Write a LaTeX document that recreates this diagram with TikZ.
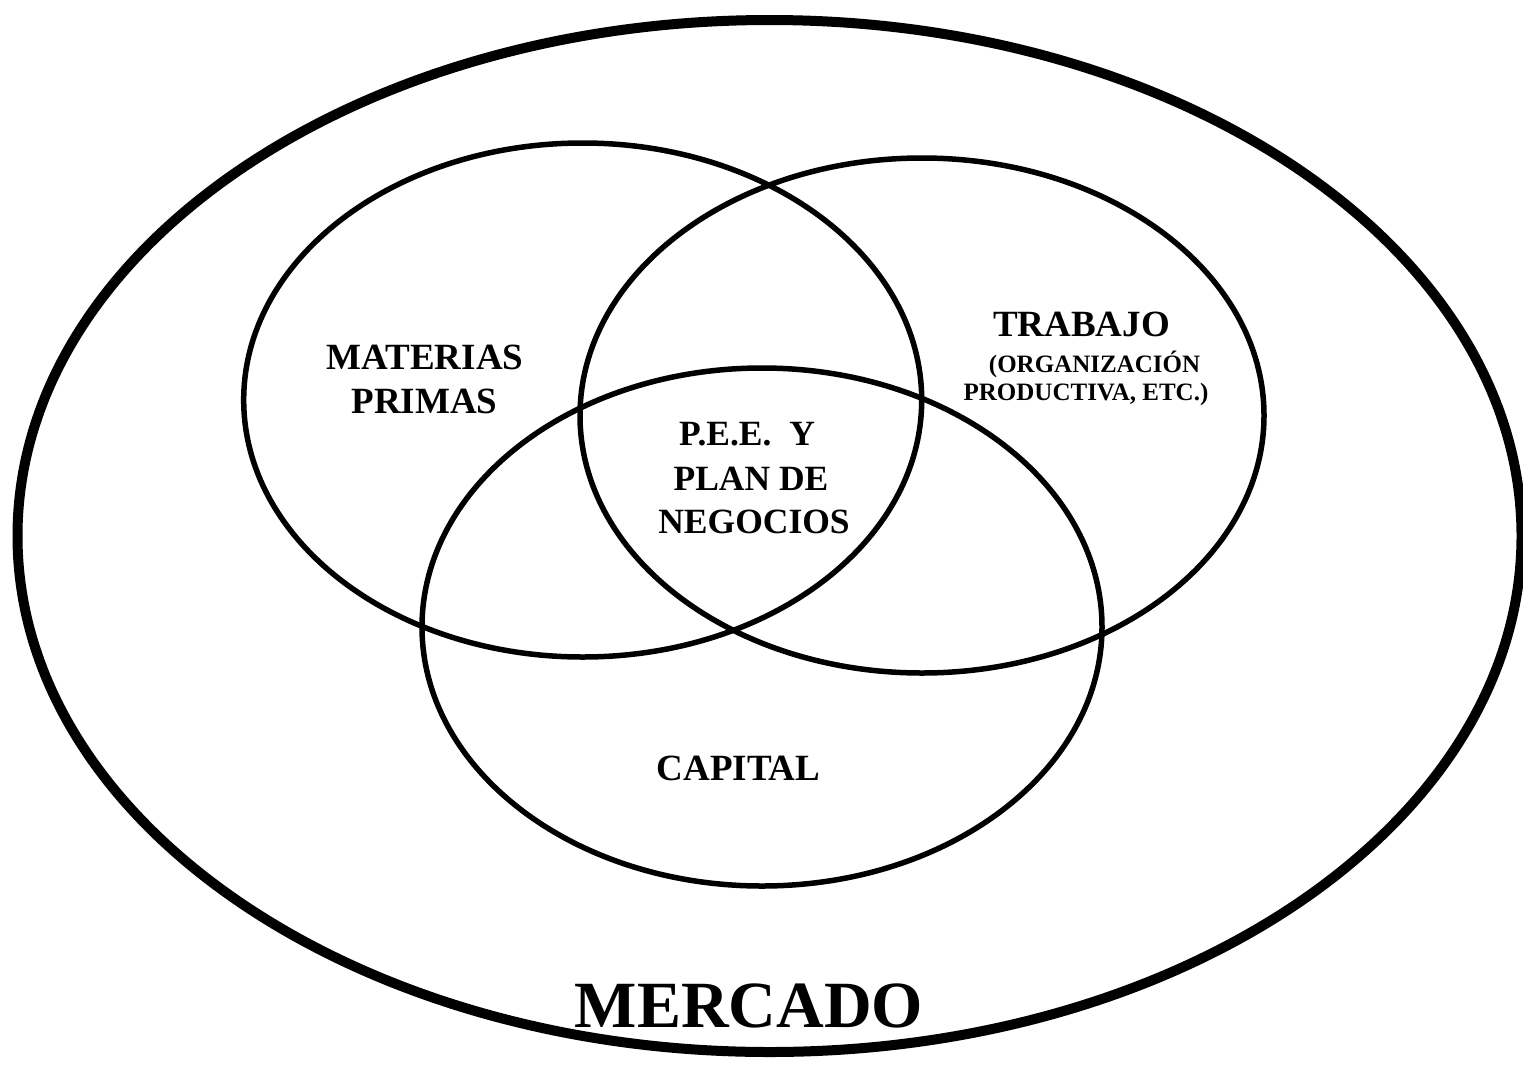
\documentclass[tikz,border=0pt]{standalone}
\usepackage{fontspec}
\setmainfont{Liberation Serif}
\begin{document}
\begin{tikzpicture}[x=1pt,y=-1pt,
  inner/.style={line width=5.5pt},
  outer/.style={line width=10pt},
  lbl/.style={font=\fontsize{37}{44}\selectfont\bfseries,anchor=base,inner sep=0pt},
  small/.style={font=\fontsize{25}{30}\selectfont\bfseries,anchor=base,inner sep=0pt},
  mid/.style={font=\fontsize{35.5}{44}\selectfont\bfseries,anchor=base,inner sep=0pt},
  big/.style={font=\fontsize{66}{70}\selectfont\bfseries,anchor=base,inner sep=0pt}]
\fill[white] (0,0) rectangle (1523,1066);
\useasboundingbox (0,0) rectangle (1523,1066);
% outer ellipse
\draw[outer] (769.5,536) ellipse [x radius=752, y radius=516];
% inner ellipses
\draw[inner] (582.7,400) ellipse [x radius=339, y radius=257];
\draw[inner] (922,415.5) ellipse [x radius=342, y radius=257.5];
\draw[inner] (762,627) ellipse [x radius=340, y radius=259];
% labels
\node[lbl] (mat1) at (425,369) {MATERIAS};
\node[lbl] (mat2) at (424.5,413) {PRIMAS};
\node[lbl] (tra1) at (1081.5,336) {TRABAJO};
\node[small] (tra2) at (1094.5,372) {(ORGANIZACIÓN};
\node[small] (tra3) at (1086,400) {PRODUCTIVA, ETC.)};
\node[mid] (pee1) at (747,445) {P.E.E.\ \ Y};
\node[mid] (pee2) at (751,490) {PLAN DE};
\node[mid] (pee3) at (754,533) {NEGOCIOS};
\node[lbl] (cap) at (738.5,780) {CAPITAL};
\node[big] (mer) at (749,1027) {MERCADO};
\end{tikzpicture}
\end{document}
